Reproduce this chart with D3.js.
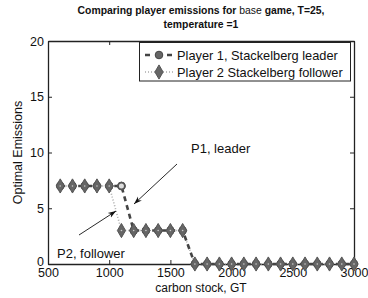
<!DOCTYPE html>
<html>
<head>
<meta charset="utf-8">
<script src="https://cdn.jsdelivr.net/npm/d3@7"></script>
<style>
  body { margin: 0; background: #fff; }
  text { font-family: "Liberation Sans", Arial, sans-serif; fill: #111; }
</style>
</head>
<body>
<div id="chart"></div>
<script>
// carbon stock (GT) and emissions for each player
var stock    = [600,700,800,900,1000,1100,1200,1300,1400,1500,1600,1700,1800,1900,2000,2100,2200,2300,2400,2500,2600,2700,2800,2900,3000];
var leader   = [7,7,7,7,7,7,3,3,3,3,3,0,0,0,0,0,0,0,0,0,0,0,0,0,0];
var follower = [7,7,7,7,7,3,3,3,3,3,3,0,0,0,0,0,0,0,0,0,0,0,0,0,0];
var xTicks = [500,1000,1500,2000,2500,3000];
var yTicks = [0,5,10,15,20];

var W = 368, H = 298;
var m = {left: 48, right: 14, top: 41, bottom: 34};

var svg = d3.select("#chart").append("svg").attr("width", W).attr("height", H);

var x = d3.scaleLinear().domain([500, 3000]).range([m.left, W - m.right]);
var y = d3.scaleLinear().domain([0, 20]).range([H - m.bottom, m.top]);

// title
var t = svg.append("text").attr("text-anchor", "middle").attr("font-size", 10.4).attr("font-weight", "bold");
t.append("tspan").attr("x", 201).attr("y", 14).text("Comparing player emissions for ");
t.append("tspan").attr("font-weight", "normal").text("base");
t.append("tspan").text(" game, T=25,");
svg.append("text").attr("x", 201).attr("y", 28).attr("text-anchor", "middle")
  .attr("font-size", 10.4).attr("font-weight", "bold").text("temperature =1");

// axes, with inward ticks on all four sides
var g = svg.append("g");
g.append("g").attr("transform", "translate(0," + y(0) + ")")
  .call(d3.axisBottom(x).tickValues(xTicks).tickFormat(d3.format("d")).tickSizeInner(-4).tickSizeOuter(0).tickPadding(4));
var yAx = g.append("g").attr("transform", "translate(" + x(500) + ",0)")
  .call(d3.axisLeft(y).tickValues(yTicks).tickSizeInner(-4).tickSizeOuter(0).tickPadding(4));
g.append("g").attr("transform", "translate(0," + y(20) + ")")
  .call(d3.axisTop(x).tickValues(xTicks).tickSizeInner(-4).tickSizeOuter(0).tickFormat(""));
g.append("g").attr("transform", "translate(" + x(3000) + ",0)")
  .call(d3.axisRight(y).tickValues(yTicks).tickSizeInner(-4).tickSizeOuter(0).tickFormat(""));
g.selectAll(".domain").attr("stroke", "#222").attr("stroke-width", 1.3);
g.selectAll(".tick line").attr("stroke", "#222");
g.selectAll(".tick text").attr("font-size", 12.5).attr("fill", "#111")
  .attr("font-family", "Liberation Sans, Arial, sans-serif");
// the "0" sits just above the "500" like in the original
yAx.selectAll(".tick text").filter(function(d) { return d === 0; }).attr("dy", "0.1em");

// axis labels
svg.append("text").attr("x", x(1750)).attr("y", 292).attr("text-anchor", "middle")
  .attr("font-size", 12).text("carbon stock, GT");
svg.append("text").attr("transform", "translate(22," + y(10) + ") rotate(-90)")
  .attr("text-anchor", "middle").attr("font-size", 12.5).text("Optimal Emissions");

var line = d3.line().x(function(d) { return x(d[0]); }).y(function(d) { return y(d[1]); });
var lData = stock.map(function(s, i) { return [s, leader[i]]; });
var fData = stock.map(function(s, i) { return [s, follower[i]]; });

// lines
svg.append("path").datum(fData).attr("d", line).attr("fill", "none")
  .attr("stroke", "#aaa").attr("stroke-width", 1.6).attr("stroke-dasharray", "1,2");
svg.append("path").datum(lData).attr("d", line).attr("fill", "none")
  .attr("stroke", "#444").attr("stroke-width", 2.6).attr("stroke-dasharray", "5,4");

// leader markers (circles)
svg.selectAll(".lm").data(lData).enter().append("circle")
  .attr("cx", function(d) { return x(d[0]); }).attr("cy", function(d) { return y(d[1]); })
  .attr("r", 3.8).attr("fill", "#666").attr("stroke", "#444").attr("stroke-width", 1);

// follower markers (diamonds)
var diamond = d3.symbol().type(d3.symbolDiamond).size(58);
svg.selectAll(".fm").data(fData).enter().append("path")
  .attr("transform", function(d) { return "translate(" + x(d[0]) + "," + y(d[1]) + ")"; })
  .attr("d", diamond).attr("fill", "#666").attr("stroke", "#555").attr("stroke-width", 1);
svg.selectAll(".fc").data(fData).enter().append("circle")
  .attr("cx", function(d) { return x(d[0]); }).attr("cy", function(d) { return y(d[1]); })
  .attr("r", 0.8).attr("fill", "#ccc");

// the lone leader marker at 1100 looks hollow
svg.append("circle").attr("cx", x(1100)).attr("cy", y(7)).attr("r", 3.4)
  .attr("fill", "#ddd").attr("stroke", "#555").attr("stroke-width", 1.8);

// annotations
svg.append("defs").append("marker").attr("id", "ah").attr("viewBox", "0 0 10 10")
  .attr("refX", 10).attr("refY", 5).attr("markerWidth", 9).attr("markerHeight", 9)
  .attr("orient", "auto").append("path").attr("d", "M0,1.5L10,5L0,8.5L3,5Z").attr("fill", "#111");
svg.append("line").attr("x1", 177).attr("y1", 164).attr("x2", 134).attr("y2", 204)
  .attr("stroke", "#111").attr("stroke-width", 0.9).attr("marker-end", "url(#ah)");
svg.append("line").attr("x1", 79).attr("y1", 235).attr("x2", 116).attr("y2", 211)
  .attr("stroke", "#111").attr("stroke-width", 0.9).attr("marker-end", "url(#ah)");
svg.append("text").attr("x", 191).attr("y", 153).attr("font-size", 13).text("P1, leader");
svg.append("text").attr("x", 57).attr("y", 258).attr("font-size", 13).text("P2, follower");

// legend
var lg = svg.append("g");
lg.append("rect").attr("x", 139.5).attr("y", 42.5).attr("width", 211).attr("height", 38.5)
  .attr("fill", "#fff").attr("stroke", "#222").attr("stroke-width", 1);
lg.append("line").attr("x1", 145).attr("x2", 173).attr("y1", 55).attr("y2", 55)
  .attr("stroke", "#444").attr("stroke-width", 2.6).attr("stroke-dasharray", "5,6");
lg.append("circle").attr("cx", 159).attr("cy", 55).attr("r", 3.8).attr("fill", "#666").attr("stroke", "#444");
lg.append("line").attr("x1", 145).attr("x2", 173).attr("y1", 72).attr("y2", 72)
  .attr("stroke", "#aaa").attr("stroke-width", 1.6).attr("stroke-dasharray", "1,2");
lg.append("path").attr("transform", "translate(159,72)").attr("d", diamond)
  .attr("fill", "#666").attr("stroke", "#555");
lg.append("text").attr("x", 177).attr("y", 59.5).attr("font-size", 12.8).text("Player 1, Stackelberg leader");
lg.append("text").attr("x", 177).attr("y", 76.5).attr("font-size", 12.8).text("Player 2 Stackelberg follower");
</script>
</body>
</html>
